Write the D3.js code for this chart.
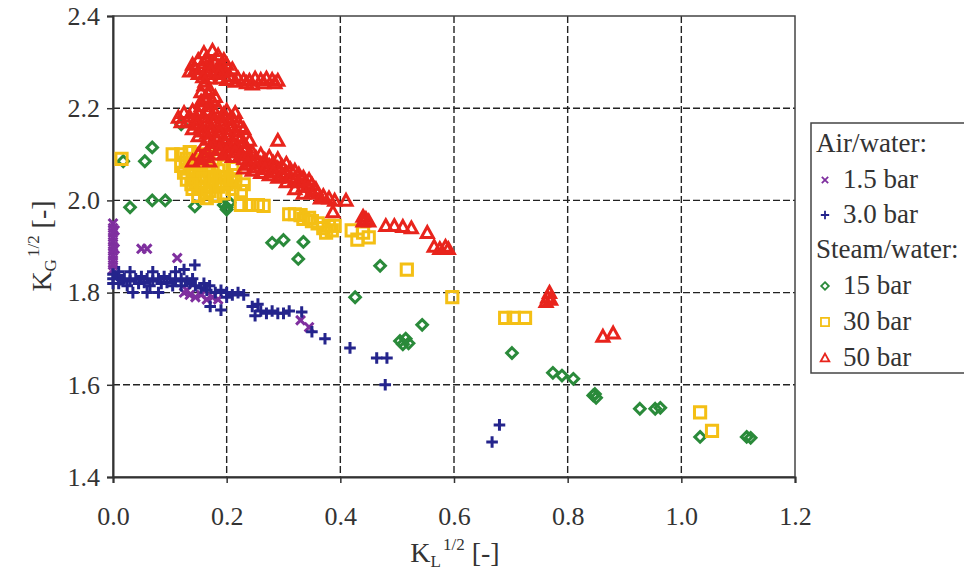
<!DOCTYPE html>
<html lang="en">
<head>
    <meta charset="UTF-8">
    <title>KG vs KL scatter</title>
    <script src="https://cdn.jsdelivr.net/npm/d3@7"></script>
    <style>
        body { margin: 0; background: #fff; }
        svg { background: #fff; }
        svg text { font-family: "Liberation Serif", "Times New Roman", Times, "DejaVu Serif", serif !important; fill: #333; }
    </style>
</head>
<body>
    <div id="chart"></div>
    <script>
        // axis ticks
        var xTicks = [0.0, 0.2, 0.4, 0.6, 0.8, 1.0, 1.2];
        var yTicks = [1.4, 1.6, 1.8, 2.0, 2.2, 2.4];

        // Air/water 1.5 bar  [KL^1/2, KG^1/2]
        var air15 = [
            [0.0, 1.95], [0.0, 1.94], [0.0, 1.93], [0.0, 1.92], [0.0, 1.91], [0.0, 1.90],
            [0.0, 1.89], [0.0, 1.88], [0.0, 1.87], [0.0, 1.86], [0.0, 1.85], [0.003, 1.935],
            [0.003, 1.895], [0.05, 1.895], [0.06, 1.895], [0.113, 1.875],
            [0.125, 1.80], [0.135, 1.795], [0.145, 1.79], [0.155, 1.795], [0.165, 1.785],
            [0.175, 1.79], [0.185, 1.785], [0.13, 1.805], [0.33, 1.74], [0.345, 1.725]
        ];

        // Air/water 3.0 bar
        var air30 = [
            [0.0, 1.84], [0.0, 1.83], [0.0, 1.82], [0.01, 1.835], [0.02, 1.83], [0.03, 1.825],
            [0.04, 1.83], [0.05, 1.835], [0.06, 1.83], [0.07, 1.825], [0.08, 1.83], [0.09, 1.835],
            [0.10, 1.83], [0.11, 1.825], [0.12, 1.83], [0.13, 1.825], [0.01, 1.82], [0.025, 1.815],
            [0.045, 1.82], [0.065, 1.815], [0.085, 1.82], [0.105, 1.815], [0.12, 1.815], [0.135, 1.82],
            [0.145, 1.815], [0.155, 1.81], [0.165, 1.805], [0.17, 1.815], [0.18, 1.80], [0.19, 1.805],
            [0.20, 1.80], [0.21, 1.795], [0.22, 1.80], [0.23, 1.795], [0.01, 1.845], [0.03, 1.845],
            [0.07, 1.845], [0.11, 1.845], [0.035, 1.80], [0.06, 1.80], [0.08, 1.80], [0.125, 1.85],
            [0.144, 1.86], [0.19, 1.762], [0.2, 1.79], [0.171, 1.77], [0.015, 1.828], [0.055, 1.822],
            [0.095, 1.822], [0.14, 1.83], [0.16, 1.82],
            [0.245, 1.77], [0.255, 1.775], [0.26, 1.76], [0.27, 1.755], [0.28, 1.76], [0.29, 1.755],
            [0.30, 1.755], [0.31, 1.76], [0.25, 1.75], [0.332, 1.758], [0.35, 1.715], [0.373, 1.70],
            [0.417, 1.68], [0.464, 1.658], [0.482, 1.658], [0.479, 1.60], [0.68, 1.513], [0.667, 1.476]
        ];

        // Steam/water 15 bar
        var steam15 = [
            [0.018, 2.085], [0.056, 2.085], [0.069, 2.115], [0.12, 2.165], [0.03, 1.985],
            [0.069, 2.0], [0.092, 2.0], [0.144, 1.987], [0.195, 1.99], [0.20, 1.985], [0.205, 1.995],
            [0.20, 1.98], [0.28, 1.908], [0.30, 1.914], [0.335, 1.91], [0.326, 1.873],
            [0.47, 1.858], [0.426, 1.79], [0.544, 1.73], [0.505, 1.695], [0.515, 1.70],
            [0.52, 1.69], [0.51, 1.688], [0.702, 1.669], [0.774, 1.626], [0.79, 1.62], [0.81, 1.613],
            [0.845, 1.577], [0.85, 1.572], [0.848, 1.58], [0.927, 1.548], [0.954, 1.548],
            [0.963, 1.55], [1.033, 1.487], [1.115, 1.487], [1.122, 1.485]
        ];

        // Steam/water 30 bar
        var steam30 = [
            [0.015, 2.09], [0.105, 2.10],
            [0.12, 2.10], [0.135, 2.105], [0.15, 2.10], [0.13, 2.09], [0.145, 2.085], [0.12, 2.075],
            [0.135, 2.07], [0.15, 2.07], [0.165, 2.075], [0.125, 2.06], [0.14, 2.055], [0.155, 2.055],
            [0.17, 2.06], [0.185, 2.065], [0.13, 2.045], [0.145, 2.04], [0.16, 2.04], [0.175, 2.045],
            [0.19, 2.05], [0.14, 2.025], [0.155, 2.025], [0.17, 2.02], [0.185, 2.03], [0.20, 2.035],
            [0.215, 2.04], [0.23, 2.035], [0.15, 2.01], [0.165, 2.005], [0.18, 2.01], [0.195, 2.015],
            [0.21, 2.025], [0.225, 2.02], [0.20, 2.05], [0.215, 2.055], [0.18, 2.09], [0.195, 2.075],
            [0.21, 2.07], [0.128, 2.082], [0.142, 2.063], [0.158, 2.048], [0.172, 2.032], [0.162, 2.015],
            [0.178, 2.052], [0.138, 2.035], [0.192, 2.04], [0.207, 2.045], [0.157, 2.088], [0.168, 2.095],
            [0.225, 1.99], [0.24, 1.99], [0.255, 1.99], [0.265, 1.988], [0.31, 1.97], [0.32, 1.97],
            [0.33, 1.968], [0.335, 1.96], [0.345, 1.962], [0.35, 1.955], [0.36, 1.95], [0.37, 1.94],
            [0.38, 1.945], [0.39, 1.945], [0.385, 1.935], [0.375, 1.93], [0.42, 1.935], [0.44, 1.93],
            [0.45, 1.92], [0.43, 1.915], [0.517, 1.85], [0.597, 1.79], [0.69, 1.745], [0.705, 1.745],
            [0.725, 1.745], [1.033, 1.54], [1.054, 1.50]
        ];

        // Steam/water 50 bar
        var steam50 = [
            // top cluster
            [0.16, 2.32], [0.175, 2.325], [0.185, 2.315], [0.15, 2.305], [0.165, 2.31], [0.195, 2.305],
            [0.14, 2.295], [0.155, 2.29], [0.17, 2.295], [0.185, 2.29], [0.20, 2.295], [0.135, 2.28],
            [0.15, 2.275], [0.165, 2.28], [0.18, 2.275], [0.195, 2.28], [0.21, 2.285], [0.17, 2.265],
            [0.19, 2.265], [0.205, 2.27], [0.22, 2.265], [0.23, 2.262], [0.24, 2.26], [0.25, 2.265],
            [0.26, 2.262], [0.27, 2.265], [0.28, 2.262], [0.29, 2.26], [0.215, 2.258], [0.235, 2.255],
            [0.16, 2.25], [0.155, 2.235], [0.17, 2.24], [0.165, 2.22], [0.18, 2.225], [0.175, 2.215],
            [0.155, 2.215], [0.145, 2.285], [0.16, 2.298], [0.178, 2.302], [0.192, 2.292], [0.172, 2.282],
            [0.188, 2.278], [0.158, 2.268], [0.2, 2.262], [0.168, 2.232], [0.162, 2.258], [0.245, 2.252],
            [0.265, 2.255], [0.285, 2.255],
            // middle cluster
            [0.115, 2.18], [0.125, 2.19], [0.14, 2.195], [0.155, 2.205], [0.17, 2.21], [0.185, 2.20],
            [0.20, 2.195], [0.215, 2.19], [0.13, 2.17], [0.145, 2.175], [0.16, 2.18], [0.175, 2.185],
            [0.19, 2.18], [0.205, 2.175], [0.22, 2.17], [0.14, 2.155], [0.155, 2.16], [0.17, 2.165],
            [0.185, 2.16], [0.20, 2.155], [0.215, 2.15], [0.23, 2.155], [0.15, 2.14], [0.165, 2.145],
            [0.18, 2.14], [0.195, 2.135], [0.21, 2.13], [0.225, 2.135], [0.24, 2.13], [0.16, 2.12],
            [0.175, 2.125], [0.19, 2.12], [0.205, 2.115], [0.22, 2.115], [0.235, 2.115], [0.15, 2.10],
            [0.165, 2.105], [0.18, 2.10], [0.195, 2.10], [0.21, 2.095], [0.14, 2.085], [0.155, 2.09],
            [0.17, 2.085], [0.12, 2.17], [0.135, 2.182], [0.15, 2.19], [0.165, 2.195], [0.18, 2.19],
            [0.195, 2.188], [0.21, 2.18], [0.148, 2.165], [0.163, 2.17], [0.178, 2.172], [0.193, 2.165],
            [0.208, 2.162], [0.225, 2.16], [0.158, 2.15], [0.173, 2.152], [0.188, 2.148], [0.203, 2.142],
            [0.218, 2.14], [0.168, 2.132], [0.183, 2.13], [0.198, 2.125], [0.213, 2.12], [0.23, 2.125],
            [0.172, 2.112], [0.187, 2.11], [0.2, 2.105], [0.215, 2.105], [0.16, 2.095], [0.225, 2.1],
            // band
            [0.23, 2.11], [0.23, 2.09], [0.23, 2.07], [0.245, 2.105], [0.245, 2.085], [0.245, 2.065],
            [0.26, 2.10], [0.26, 2.08], [0.26, 2.06], [0.275, 2.095], [0.275, 2.075], [0.275, 2.055],
            [0.29, 2.09], [0.29, 2.07], [0.29, 2.05], [0.305, 2.08], [0.305, 2.06], [0.305, 2.04],
            [0.32, 2.065], [0.32, 2.045], [0.32, 2.025], [0.335, 2.05], [0.335, 2.03], [0.335, 2.015],
            [0.35, 2.035], [0.35, 2.02], [0.36, 2.015], [0.37, 2.01], [0.38, 2.005], [0.39, 2.0],
            [0.238, 2.098], [0.252, 2.092], [0.267, 2.088], [0.282, 2.082], [0.297, 2.075], [0.312, 2.068],
            [0.238, 2.078], [0.252, 2.072], [0.267, 2.068], [0.282, 2.062], [0.297, 2.055], [0.312, 2.05],
            [0.327, 2.04], [0.342, 2.03], [0.357, 2.025], [0.327, 2.057], [0.345, 2.045], [0.365, 2.005],
            // scattered
            [0.29, 2.13], [0.387, 1.975], [0.41, 2.0], [0.44, 1.965], [0.445, 1.96], [0.45, 1.955],
            [0.44, 1.955], [0.48, 1.945], [0.495, 1.945], [0.51, 1.943], [0.525, 1.94], [0.553, 1.93],
            [0.565, 1.90], [0.575, 1.895], [0.585, 1.90], [0.59, 1.895], [0.765, 1.79], [0.762, 1.78],
            [0.768, 1.80], [0.77, 1.785], [0.862, 1.705], [0.88, 1.712]
        ];

        var series = [
            { name: '1.5 bar', data: air15, shape: 'x', color: '#7f2f9f' },
            { name: '3.0 bar', data: air30, shape: 'plus', color: '#24248c' },
            { name: '15 bar', data: steam15, shape: 'diamond', color: '#2a8a3a' },
            { name: '30 bar', data: steam30, shape: 'square', color: '#f4bf14' },
            { name: '50 bar', data: steam50, shape: 'triangle', color: '#e8241c' }
        ];

        var width = 964, height = 579;
        var serif = '"Liberation Serif", "Times New Roman", Times, serif';

        var svg = d3.select('#chart').append('svg')
            .attr('width', width)
            .attr('height', height)
            .attr('font-family', serif);

        var x_scale = d3.scaleLinear().domain([0, 1.2]).range([113, 795]);
        var y_scale = d3.scaleLinear().domain([1.4, 2.4]).range([477, 16]);

        // marker paths (centered on 0,0)
        function markerPath(shape, s) {
            if (shape == 'x') return 'M' + (-s) + ',' + (-s) + 'L' + s + ',' + s + 'M' + (-s) + ',' + s + 'L' + s + ',' + (-s);
            if (shape == 'plus') return 'M' + (-s) + ',0H' + s + 'M0,' + (-s) + 'V' + s;
            if (shape == 'diamond') return 'M0,' + (-s) + 'L' + s + ',0L0,' + s + 'L' + (-s) + ',0Z';
            if (shape == 'square') return 'M' + (-s) + ',' + (-s) + 'H' + s + 'V' + s + 'H' + (-s) + 'Z';
            return 'M0,' + (-s) + 'L' + s + ',' + (s * 0.8) + 'H' + (-s) + 'Z';
        }
        var markerSize = { x: 4.4, plus: 5.8, diamond: 5.3, square: 5.6, triangle: 6.0 };

        // gridlines
        var grid = svg.append('g');
        grid.selectAll('.vgrid')
            .data(xTicks.slice(1, -1))
            .join('line')
            .attr('x1', d => x_scale(d)).attr('x2', d => x_scale(d))
            .attr('y1', y_scale(2.4)).attr('y2', y_scale(1.4))
            .attr('stroke', '#222').attr('stroke-width', 1.4)
            .attr('stroke-dasharray', '7,3');
        grid.selectAll('.hgrid')
            .data(yTicks.slice(1, -1))
            .join('line')
            .attr('x1', x_scale(0)).attr('x2', x_scale(1.2))
            .attr('y1', d => y_scale(d)).attr('y2', d => y_scale(d))
            .attr('stroke', '#222').attr('stroke-width', 1.4)
            .attr('stroke-dasharray', '7,3');

        // frame
        svg.append('rect')
            .attr('x', x_scale(0)).attr('y', y_scale(2.4))
            .attr('width', x_scale(1.2) - x_scale(0))
            .attr('height', y_scale(1.4) - y_scale(2.4))
            .attr('fill', 'none').attr('stroke', '#444').attr('stroke-width', 1.5);

        // axes
        var yAxis = svg.append('g')
            .attr('transform', 'translate(' + x_scale(0) + ',0)')
            .call(d3.axisLeft(y_scale).tickValues(yTicks).tickFormat(d3.format('.1f')).tickSize(6).tickPadding(7));
        var xAxis = svg.append('g')
            .attr('transform', 'translate(0,' + y_scale(1.4) + ')')
            .call(d3.axisBottom(x_scale).tickValues(xTicks).tickFormat(d3.format('.1f')).tickSize(6).tickPadding(24));
        [xAxis, yAxis].forEach(function(ax) {
            ax.attr('font-family', serif);
            ax.select('.domain').attr('stroke', '#333').attr('stroke-width', 2);
            ax.selectAll('.tick line').attr('stroke', '#333').attr('stroke-width', 1.5);
            ax.selectAll('text')
                .attr('font-size', '26px')
                .attr('fill', '#333');
        });

        // data points
        series.forEach(function(s) {
            svg.append('g').selectAll('path')
                .data(s.data)
                .join('path')
                .attr('transform', d => 'translate(' + x_scale(d[0]) + ',' + y_scale(d[1]) + ')')
                .attr('d', markerPath(s.shape, markerSize[s.shape]))
                .attr('fill', 'none')
                .attr('stroke', s.color)
                .attr('stroke-width', 3);
        });

        // axis titles
        var xt = svg.append('text')
            .attr('x', 455).attr('y', 562)
            .attr('text-anchor', 'middle')
            .attr('font-size', '28px');
        xt.append('tspan').text('K');
        xt.append('tspan').attr('font-size', '17px').attr('dy', 5).text('L');
        xt.append('tspan').attr('font-size', '17px').attr('dy', -17).attr('dx', 2).text('1/2');
        xt.append('tspan').attr('dy', 12).text(' [-]');

        var yt = svg.append('text')
            .attr('transform', 'translate(51,246) rotate(-90)')
            .attr('text-anchor', 'middle')
            .attr('font-size', '28px');
        yt.append('tspan').text('K');
        yt.append('tspan').attr('font-size', '17px').attr('dy', 5).text('G');
        yt.append('tspan').attr('font-size', '17px').attr('dy', -17).attr('dx', 2).text('1/2');
        yt.append('tspan').attr('dy', 12).text(' [-]');

        // legend
        var legend = svg.append('g');
        legend.append('rect')
            .attr('x', 811).attr('y', 123)
            .attr('width', 170).attr('height', 250)
            .attr('fill', '#fff').attr('stroke', '#444').attr('stroke-width', 1.5);

        var legendRows = [
            { label: 'Air/water:', y: 152 },
            { label: '1.5 bar', y: 188, s: series[0] },
            { label: '3.0 bar', y: 223, s: series[1] },
            { label: 'Steam/water:', y: 258 },
            { label: '15 bar', y: 294, s: series[2] },
            { label: '30 bar', y: 330, s: series[3] },
            { label: '50 bar', y: 366, s: series[4] }
        ];
        legendRows.forEach(function(r) {
            legend.append('text')
                .attr('x', r.s ? 843 : 816)
                .attr('y', r.y)
                .attr('font-size', '27px')
                .attr('fill', '#222')
                .text(r.label);
            if (r.s) {
                legend.append('path')
                    .attr('transform', 'translate(825,' + (r.y - 8) + ')')
                    .attr('d', markerPath(r.s.shape, markerSize[r.s.shape] * 0.72))
                    .attr('fill', 'none')
                    .attr('stroke', r.s.color)
                    .attr('stroke-width', 1.8);
            }
        });
    </script>
</body>
</html>
